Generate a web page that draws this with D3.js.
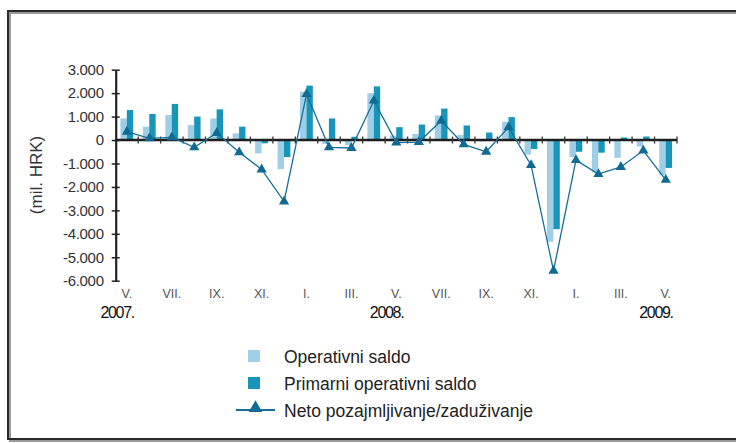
<!DOCTYPE html>
<html>
<head>
<meta charset="utf-8">
<script src="https://cdn.jsdelivr.net/npm/d3@7"></script>
<style>
  body { margin: 0; background: #fff; }
  text { font-family: "Liberation Sans", Arial, sans-serif; }
</style>
</head>
<body>
<div id="chart-area"></div>
<script>

// data (mil. HRK), monthly V.2007 - V.2009
var months = ["V.","VI.","VII.","VIII.","IX.","X.","XI.","XII.",
              "I.","II.","III.","IV.","V.","VI.","VII.","VIII.","IX.","X.","XI.","XII.",
              "I.","II.","III.","IV.","V."];
var operativni = [920, 570, 1070, 640, 920, 285, -570, -1240,
                  2060, -170, -220, 2000, 190, 260, 1050, 220, -60, 780, -625, -4340,
                  -725, -1380, -760, -280, -1500];
var primarni = [1280, 1110, 1540, 1000, 1310, 570, -140, -725,
                2320, 920, 140, 2290, 550, 660, 1340, 620, 320, 980, -385, -3800,
                -500, -540, 110, 150, -1190];
var neto = [355, 70, 115, -310, 300, -525, -1255, -2620,
            1960, -310, -340, 1680, -110, -85, 825, -185, -500, 540, -1070, -5575,
            -855, -1450, -1150, -450, -1700];
var yearIdx = [0, 12, 24];
var yearLabels = ["2007.", "2008.", "2009."];
var yTicks = [3000, 2000, 1000, 0, -1000, -2000, -3000, -4000, -5000, -6000];

var seriesNames = ["Operativni saldo", "Primarni operativni saldo", "Neto pozajmljivanje/zaduživanje"];
var cLight = "#9fcfe6", cDark = "#1895b9", cLine = "#176f97";

var W = 736, H = 443;
var margin = { left: 115.7, top: 69.7 };
var width = 561.3, height = 211;

var svg = d3.select("#chart-area")
    .append("svg")
        .attr("width", W)
        .attr("height", H);

// frame
svg.append("rect")
    .attr("x", 10).attr("y", 13)
    .attr("width", 740).attr("height", 428)
    .attr("fill", "none").attr("stroke", "#9a9a9a").attr("stroke-width", 2);
svg.append("rect")
    .attr("x", 8).attr("y", 11)
    .attr("width", 740).attr("height", 428)
    .attr("fill", "none").attr("stroke", "#2a2a2a").attr("stroke-width", 2);

var g = svg.append("g")
    .attr("transform", "translate(" + margin.left + ", " + margin.top + ")");

var idx = d3.range(months.length);

// scales
var x = d3.scaleBand()
    .domain(idx)
    .range([0, width])
    .paddingInner(0)
    .paddingOuter(0);

var x1 = d3.scaleBand()
    .domain([0, 1])
    .range([x.bandwidth() * 0.21, x.bandwidth() * 0.78]);

var y = d3.scaleLinear()
    .domain([-6000, 3000])
    .range([height, 0]);

var loc = d3.formatLocale({ decimal: ",", thousands: ".", grouping: [3], currency: ["", ""], minus: "-" });
var fmt = loc.format(",d");

// Y Axis
var yAxisCall = d3.axisLeft(y)
    .tickValues(yTicks)
    .tickSizeInner(4)
    .tickSizeOuter(0)
    .tickFormat(function(d){ return fmt(d); });
var yAx = g.append("g")
    .attr("class", "y axis")
    .call(yAxisCall);
yAx.select(".domain").attr("stroke", "#222").attr("stroke-width", 2.2);
yAx.selectAll(".tick line")
    .attr("x1", -4).attr("x2", 4)
    .attr("stroke", "#222").attr("stroke-width", 1.5);
yAx.selectAll(".tick text")
    .attr("x", -12)
    .attr("font-size", "15px")
    .attr("fill", "#333")
    .attr("letter-spacing", "-0.3px")
    .attr("font-family", "Liberation Sans, Arial, sans-serif");

// Y Label
g.append("text")
    .attr("transform", "translate(" + (36 - margin.left) + "," + (175 - margin.top) + ") rotate(-90)")
    .attr("text-anchor", "middle")
    .attr("dominant-baseline", "central")
    .attr("font-size", "17px")
    .attr("fill", "#333")
    .text("(mil. HRK)");

// Bars
var bars = g.selectAll(".grp")
    .data(idx)
    .enter()
    .append("g")
        .attr("class", "grp")
        .attr("transform", function(i){ return "translate(" + x(i) + ",0)"; });

bars.append("rect")
    .attr("x", x1(0))
    .attr("width", x1.bandwidth())
    .attr("y", function(i){ return y(Math.max(0, operativni[i])); })
    .attr("height", function(i){ return Math.abs(y(operativni[i]) - y(0)); })
    .attr("fill", cLight);

bars.append("rect")
    .attr("x", x1(1))
    .attr("width", x1.bandwidth())
    .attr("y", function(i){ return y(Math.max(0, primarni[i])); })
    .attr("height", function(i){ return Math.abs(y(primarni[i]) - y(0)); })
    .attr("fill", cDark);

// zero line with ticks between months
g.append("line")
    .attr("x1", 0).attr("x2", width)
    .attr("y1", y(0)).attr("y2", y(0))
    .attr("stroke", "#1e1e1e").attr("stroke-width", 2.6);
g.selectAll(".xtick")
    .data(d3.range(1, months.length + 1))
    .enter()
    .append("line")
        .attr("class", "xtick")
        .attr("x1", function(i){ return x.step() * i; })
        .attr("x2", function(i){ return x.step() * i; })
        .attr("y1", y(0) - 3.5).attr("y2", y(0) + 3.5)
        .attr("stroke", "#333").attr("stroke-width", 1.3);

// month labels
g.selectAll(".mlab")
    .data(idx.filter(function(i){ return i % 2 == 0; }))
    .enter()
    .append("text")
        .attr("class", "mlab")
        .attr("x", function(i){ return x(i) + x.bandwidth() / 2; })
        .attr("y", height + 17)
        .attr("text-anchor", "middle")
        .attr("font-size", "12.5px")
        .attr("fill", "#555")
        .text(function(i){ return months[i]; });

// year labels
g.selectAll(".ylab")
    .data(yearIdx)
    .enter()
    .append("text")
        .attr("class", "ylab")
        .attr("x", function(i){ return x(i) + x.bandwidth() / 2 + 7; })
        .attr("y", height + 37)
        .attr("text-anchor", "end")
        .attr("font-size", "16px")
        .attr("letter-spacing", "-1.3px")
        .attr("fill", "#111")
        .text(function(d, k){ return yearLabels[k]; });

// Line
var line = d3.line()
    .x(function(i){ return x(i) + x.bandwidth() / 2; })
    .y(function(i){ return y(neto[i]); });

g.append("path")
    .datum(idx)
    .attr("d", line)
    .attr("fill", "none")
    .attr("stroke", cLine)
    .attr("stroke-width", 1.3);

var tri = d3.symbol().type(d3.symbolTriangle).size(45);
g.selectAll(".tri")
    .data(idx)
    .enter()
    .append("path")
        .attr("class", "tri")
        .attr("d", tri)
        .attr("transform", function(i){ return "translate(" + (x(i) + x.bandwidth() / 2) + "," + y(neto[i]) + ")"; })
        .attr("fill", "#0f6b93");

// Legend
var leg = svg.append("g");
leg.append("rect")
    .attr("x", 248).attr("y", 350).attr("width", 12).attr("height", 12)
    .attr("fill", cLight);
leg.append("rect")
    .attr("x", 248).attr("y", 377).attr("width", 12).attr("height", 12)
    .attr("fill", cDark);
leg.append("line")
    .attr("x1", 236).attr("x2", 275).attr("y1", 410).attr("y2", 410)
    .attr("stroke", cLine).attr("stroke-width", 2.2);
leg.append("path")
    .attr("d", d3.symbol().type(d3.symbolTriangle).size(80))
    .attr("transform", "translate(255.5,408)")
    .attr("fill", "#0f6b93");

leg.selectAll(".ltxt")
    .data(seriesNames)
    .enter()
    .append("text")
        .attr("class", "ltxt")
        .attr("x", 284)
        .attr("y", function(d, k){ return 363 + k * 27; })
        .attr("font-size", "17.5px")
        .attr("fill", "#222")
        .text(function(d){ return d; });

</script>
</body>
</html>
